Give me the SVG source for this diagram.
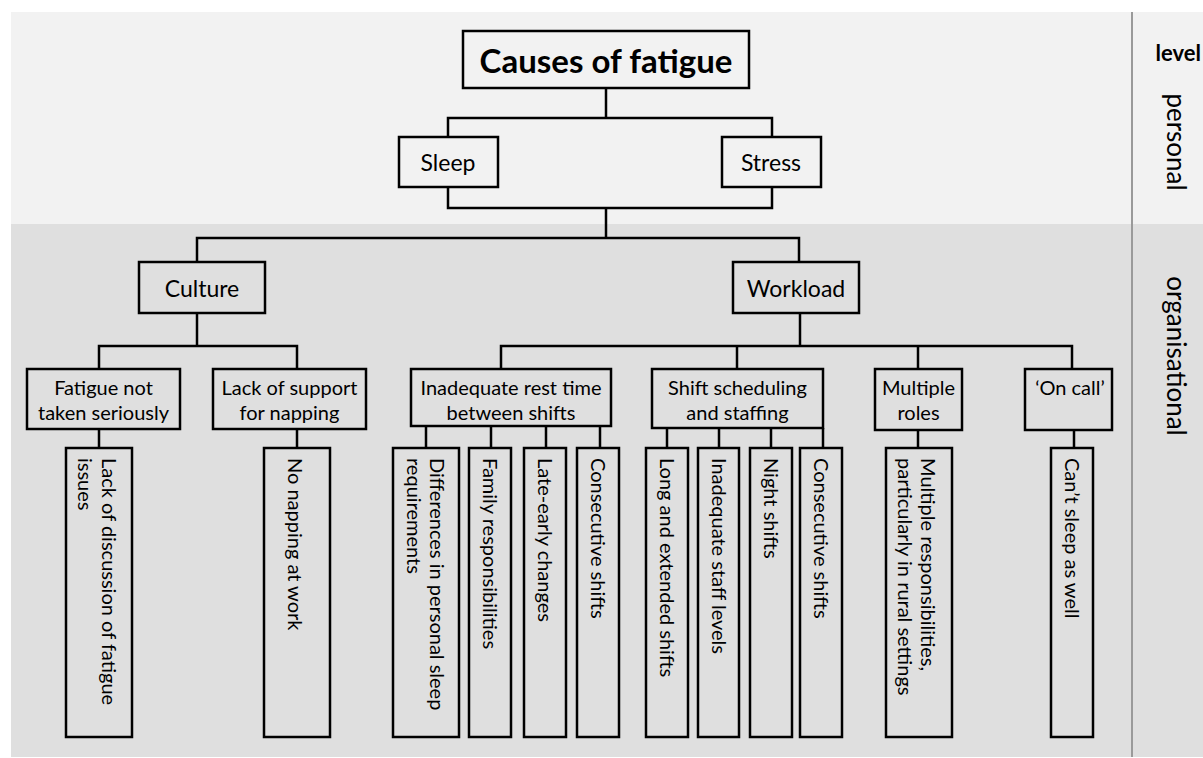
<svg xmlns="http://www.w3.org/2000/svg" width="1203" height="758" viewBox="0 0 1203 758">
<style>
.box{fill:none;stroke:#000;stroke-width:2.5}
.conn path{fill:none;stroke:#000;stroke-width:2.5}
text{font-family:Lato,"Open Sans","Liberation Sans",sans-serif;fill:#000}
.m{font-size:23px;text-anchor:middle}
.s{font-size:20px;text-anchor:middle}
.v{font-size:20px}
.lv{font-size:26px;text-anchor:middle}
.title{font-size:33px;font-weight:bold;text-anchor:middle}
</style>
<g id="background">
<rect x="11" y="12" width="1192" height="212" fill="#f2f2f2"/>
<rect x="11" y="224" width="1192" height="533" fill="#dfdfdf"/>
<line x1="1132" y1="12" x2="1132" y2="757" stroke="#9a9a9a" stroke-width="2"/>
</g>
<g id="levels">
<text x="1201" y="61" style="font-size:22px;font-weight:bold;text-anchor:end">level</text>
<text class="lv" transform="translate(1167 142) rotate(90)">personal</text>
<text class="lv" transform="translate(1167 356) rotate(90)">organisational</text>
</g>
<g class="conn" id="connectors">
<path d="M606 88 V118"/>
<path d="M448 137 V118 H772 V137"/>
<path d="M448 187 V208 H772 V187"/>
<path d="M606 208 V238"/>
<path d="M197 262 V238 H799 V262"/>
<path d="M197 313 V346"/>
<path d="M99 369 V346 H297 V369"/>
<path d="M800 313 V346"/>
<path d="M501 369 V346 H1072 V369"/>
<path d="M737 346 V369"/>
<path d="M918 346 V369"/>
<path d="M99 429 V448 M297 429 V448"/>
<path d="M426 426 V448 M491 426 V448 M546 426 V448 M600 426 V448"/>
<path d="M667 428 V448 M719 428 V448 M771 428 V448 M823 428 V448"/>
<path d="M918 430 V448 M1074 430 V448"/>
</g>
<g id="n-root"><rect class="box" x="463" y="31" width="286" height="57"/><text class="title" x="606" y="73">Causes of fatigue</text></g>
<g id="n-sleep"><rect class="box" x="399" y="137" width="99" height="50"/><text class="m" x="448" y="171">Sleep</text></g>
<g id="n-stress"><rect class="box" x="722" y="137" width="99" height="50"/><text class="m" x="771" y="171">Stress</text></g>
<g id="n-culture"><rect class="box" x="139" y="262" width="126" height="51"/><text class="m" x="202" y="297">Culture</text></g>
<g id="n-workload"><rect class="box" x="733" y="262" width="126" height="51"/><text class="m" x="796" y="297">Workload</text></g>
<g id="n-fatigue-not-serious"><rect class="box" x="27" y="369" width="153" height="60"/><text class="s" x="103.5" y="395">Fatigue not</text><text class="s" x="103.5" y="420">taken seriously</text></g>
<g id="n-lack-support"><rect class="box" x="213" y="369" width="153" height="60"/><text class="s" x="289.5" y="395">Lack of support</text><text class="s" x="289.5" y="420">for napping</text></g>
<g id="n-inadequate-rest"><rect class="box" x="411" y="369" width="200" height="57"/><text class="s" x="511" y="395">Inadequate rest time</text><text class="s" x="511" y="420">between shifts</text></g>
<g id="n-shift-scheduling"><rect class="box" x="652" y="369" width="171" height="59"/><text class="s" x="737.5" y="395">Shift scheduling</text><text class="s" x="737.5" y="420">and staffing</text></g>
<g id="n-multiple-roles"><rect class="box" x="875" y="369" width="87" height="61"/><text class="s" x="918.5" y="395">Multiple</text><text class="s" x="918.5" y="420">roles</text></g>
<g id="n-on-call"><rect class="box" x="1025" y="369" width="87" height="61"/><text class="s" x="1070" y="395">‘On call’</text></g>
<g id="n-lack-discussion"><rect class="box" x="66" y="448" width="66" height="289"/><text class="v" transform="translate(102 458) rotate(90)"><tspan x="0" y="0">Lack of discussion of fatigue</tspan><tspan x="0" y="24">issues</tspan></text></g>
<g id="n-no-napping"><rect class="box" x="264" y="448" width="66" height="289"/><text class="v" transform="translate(288 458) rotate(90)">No napping at work</text></g>
<g id="n-differences"><rect class="box" x="393" y="448" width="66" height="289"/><text class="v" transform="translate(430 458) rotate(90)"><tspan x="0" y="0">Differences in personal sleep</tspan><tspan x="0" y="23">requirements</tspan></text></g>
<g id="n-family"><rect class="box" x="469" y="448" width="42" height="289"/><text class="v" transform="translate(483 458) rotate(90)">Family responsibilities</text></g>
<g id="n-late-early"><rect class="box" x="524" y="448" width="42" height="289"/><text class="v" transform="translate(538 458) rotate(90)">Late-early changes</text></g>
<g id="n-consecutive-1"><rect class="box" x="577" y="448" width="42" height="289"/><text class="v" transform="translate(591 458) rotate(90)">Consecutive shifts</text></g>
<g id="n-long-extended"><rect class="box" x="646" y="448" width="42" height="289"/><text class="v" transform="translate(660 458) rotate(90)">Long and extended shifts</text></g>
<g id="n-inadequate-staff"><rect class="box" x="698" y="448" width="41" height="289"/><text class="v" transform="translate(712 458) rotate(90)">Inadequate staff levels</text></g>
<g id="n-night"><rect class="box" x="750" y="448" width="42" height="289"/><text class="v" transform="translate(764 458) rotate(90)">Night shifts</text></g>
<g id="n-consecutive-2"><rect class="box" x="800" y="448" width="42" height="289"/><text class="v" transform="translate(814 458) rotate(90)">Consecutive shifts</text></g>
<g id="n-multiple-resp"><rect class="box" x="886" y="448" width="66" height="289"/><text class="v" transform="translate(921 458) rotate(90)"><tspan x="0" y="0">Multiple responsibilities,</tspan><tspan x="0" y="23">particularly in rural settings</tspan></text></g>
<g id="n-cant-sleep"><rect class="box" x="1051" y="448" width="42" height="289"/><text class="v" transform="translate(1065 458) rotate(90)">Can’t sleep as well</text></g>
</svg>
